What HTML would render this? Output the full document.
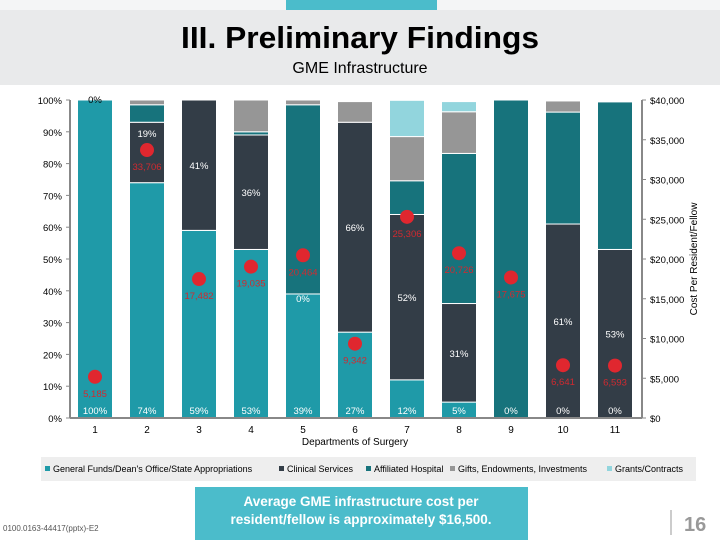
<!DOCTYPE html>
<html><head><meta charset="utf-8"><style>
body{margin:0;width:720px;height:540px;overflow:hidden;background:#fff;font-family:"Liberation Sans",sans-serif}
</style></head><body>
<svg id="c" width="720" height="540" xmlns="http://www.w3.org/2000/svg" font-family="Liberation Sans, sans-serif">
<rect x="0" y="0" width="720" height="10" fill="#f4f5f6"/>
<rect x="286" y="0" width="151" height="10" fill="#4bbccb"/>
<rect x="0" y="10" width="720" height="75" fill="#e9eaeb"/>
<text x="360" y="48" text-anchor="middle" font-size="31" font-weight="bold" textLength="358" lengthAdjust="spacingAndGlyphs">III. Preliminary Findings</text>
<text x="360" y="73" text-anchor="middle" font-size="16">GME Infrastructure</text>
<g id="plot"></g>
<text x="355" y="445" text-anchor="middle" font-size="10">Departments of Surgery</text>
<text transform="translate(697,259) rotate(-90)" text-anchor="middle" font-size="10">Cost Per Resident/Fellow</text>
<rect x="41" y="457" width="655" height="24" fill="#eeeeee"/>
<g id="legend"></g>
<rect x="195" y="487" width="333" height="53" fill="#4bbccb"/>
<text x="361" y="506" text-anchor="middle" font-size="13.5" font-weight="bold" fill="#fff">Average GME infrastructure  cost per</text>
<text x="361" y="524" text-anchor="middle" font-size="13.5" font-weight="bold" fill="#fff">resident/fellow is approximately $16,500.</text>
<text x="3" y="531" font-size="8" fill="#555">0100.0163-44417(pptx)-E2</text>
<line x1="671" y1="510" x2="671" y2="535" stroke="#999"/>
<text x="684" y="531" font-size="20" font-weight="bold" fill="#999">16</text>
</svg>
<script>
const categories=["1","2","3","4","5","6","7","8","9","10","11"];
const generalFunds=[100,74,59,53,39,27,12,5,0,0,0];
const clinical=[0,19,41,36,0,66,52,31,0,61,53];
const affiliated=[0,5.5,0,1,59.5,0,10.6,47.2,100,35.2,46.4];
const gifts=[0,1.5,0,10,1.5,6.5,13.9,13.1,0,3.5,0];
const grants=[0,0,0,0,0,0,11.4,3.2,0,0,0];
const costs=[5185,33706,17482,19035,20464,9342,25306,20726,17675,6641,6593];
const costLabels=["5,185","33,706","17,482","19,035","20,464","9,342","25,306","20,726","17,675","6,641","6,593"];
const pctTicks=[0,10,20,30,40,50,60,70,80,90,100];
const costTicks=[0,5000,10000,15000,20000,25000,30000,35000,40000];
const seriesNames=["General Funds/Dean's Office/State Appropriations","Clinical Services","Affiliated Hospital","Gifts, Endowments, Investments","Grants/Contracts"];
const colors=["#1f9aa8","#333d47","#17737c","#969696","#92d5dd"];
const NS="http://www.w3.org/2000/svg";
const plot=document.getElementById('plot');
const y0=418,y1=100,xl=70,xr=642;
const yP=v=>y0-(v/100)*(y0-y1);
const yC=v=>y0-(v/40000)*(y0-y1);
const xC=i=>95+i*52;
const bw=35;
function mk(t,a,p){const e=document.createElementNS(NS,t);for(const k in a)e.setAttribute(k,a[k]);(p||plot).appendChild(e);return e;}
const series=[generalFunds,clinical,affiliated,gifts,grants];
categories.forEach((c,i)=>{
  let acc=0;
  series.forEach((s,k)=>{
    const v=s[i];if(v<=0)return;
    const r=mk('rect',{x:xC(i)-bw/2,y:yP(acc+v),width:bw,height:yP(acc)-yP(acc+v),fill:colors[k],stroke:'#fff','stroke-width':1});
    
    
    acc+=v;
  });
  const t=mk('text',{x:xC(i),y:414,'text-anchor':'middle','font-size':9.5,fill:'#fff'});t.textContent=generalFunds[i]+'%';
  
  
  let cy;
  if(i===0){cy=103;}else if(clinical[i]===0){cy=yP(generalFunds[i])+8;}else{cy=yP(generalFunds[i]+clinical[i]/2)+4;}
  if(i===1)cy=137;
  const t2=mk('text',{x:xC(i),y:cy,'text-anchor':'middle','font-size':9.5,fill:i===0?'#000':'#fff'});t2.textContent=clinical[i]+'%';
  
  
  const d=mk('circle',{cx:xC(i),cy:yC(costs[i]),r:7,fill:'#e0272f'});
  
  
  const t3=mk('text',{x:xC(i),y:yC(costs[i])+20,'text-anchor':'middle','font-size':9.5,fill:'#d02a30'});t3.textContent=costLabels[i];
  
  
  const t4=mk('text',{x:xC(i),y:433,'text-anchor':'middle','font-size':10});t4.textContent=c;
  
  
});
const la=mk('line',{x1:xl,y1:y1,x2:xl,y2:y0,stroke:'#888','stroke-width':2});


const lb=mk('line',{x1:xl,y1:y0,x2:xr,y2:y0,stroke:'#888','stroke-width':2});


const lc=mk('line',{x1:xr,y1:y1,x2:xr,y2:y0,stroke:'#888','stroke-width':2});


pctTicks.forEach(v=>{
  const t=mk('text',{x:62,y:yP(v)+4,'text-anchor':'end','font-size':9.5});t.textContent=v+'%';
  
  
  mk('line',{x1:66,y1:yP(v),x2:70,y2:yP(v),stroke:'#888'});
});
costTicks.forEach(v=>{
  const t=mk('text',{x:650,y:yC(v)+4,'font-size':9.5});t.textContent='$'+v.toLocaleString('en-US');
  
  
  mk('line',{x1:642,y1:yC(v),x2:646,y2:yC(v),stroke:'#888'});
});
const lg=document.getElementById('legend');
const lx=[45,279,366,450,607];
seriesNames.forEach((n,k)=>{
  const r=mk('rect',{x:lx[k],y:466,width:5,height:5,fill:colors[k]},lg);
  
  
  const t=mk('text',{x:lx[k]+8,y:472,'font-size':9},lg);t.textContent=n;
  
  
});
</script>
</body></html>
